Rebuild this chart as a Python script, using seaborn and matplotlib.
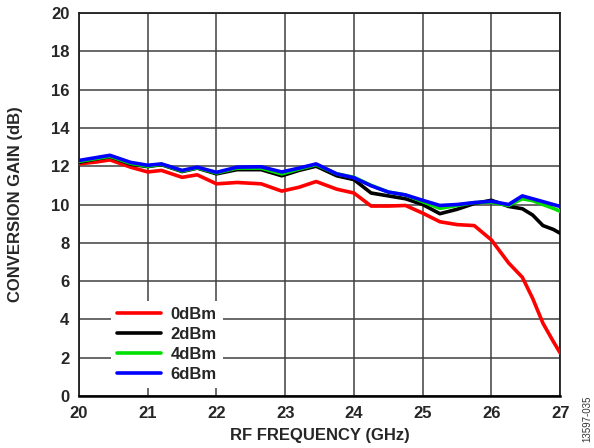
import pandas as pd
import matplotlib.pyplot as plt
import seaborn as sns

# Datos
freq = [20.0, 20.25, 20.45, 20.75, 21.0, 21.2, 21.5, 21.72, 22.0, 22.3, 22.65, 22.95,
        23.2, 23.45, 23.75, 24.0, 24.25, 24.5, 24.75, 25.0, 25.25, 25.5, 25.75, 26.0,
        26.25, 26.45, 26.6, 26.75, 26.9, 27.0]

gain_0dbm = [12.12, 12.22, 12.33, 11.95, 11.7, 11.78, 11.42, 11.55, 11.08, 11.15, 11.08, 10.7,
             10.9, 11.2, 10.8, 10.6, 9.92, 9.92, 9.95, 9.55, 9.1, 8.95, 8.9, 8.15,
             6.95, 6.2, 5.1, 3.8, 2.85, 2.25]
gain_2dbm = [12.2, 12.38, 12.5, 12.1, 11.98, 12.08, 11.72, 11.9, 11.6, 11.82, 11.82, 11.5,
             11.78, 12.0, 11.5, 11.3, 10.6, 10.45, 10.3, 10.0, 9.52, 9.75, 10.05, 10.22,
             9.9, 9.78, 9.45, 8.9, 8.7, 8.5]
gain_4dbm = [12.25, 12.4, 12.52, 12.15, 12.0, 12.1, 11.75, 11.92, 11.65, 11.9, 11.9, 11.6,
             11.85, 12.08, 11.6, 11.42, 11.0, 10.65, 10.5, 10.15, 9.8, 9.95, 10.1, 10.12,
             9.95, 10.3, 10.2, 10.0, 9.8, 9.65]
gain_6dbm = [12.3, 12.45, 12.57, 12.2, 12.05, 12.12, 11.78, 11.95, 11.68, 11.95, 11.97, 11.7,
             11.9, 12.12, 11.6, 11.4, 10.98, 10.65, 10.5, 10.22, 9.95, 10.0, 10.1, 10.17,
             10.0, 10.45, 10.3, 10.15, 10.0, 9.9]

series_names = ['0dBm', '2dBm', '4dBm', '6dBm']
colores = ['#ff0000', '#000000', '#00e000', '#0000ff']

filas = []
for nombre, valores in zip(series_names, [gain_0dbm, gain_2dbm, gain_4dbm, gain_6dbm]):
    for f, g in zip(freq, valores):
        filas.append({'freq': f, 'gain': g, 'nivel': nombre})
df = pd.DataFrame(filas)

sns.set_style('white')
plt.rcParams['font.family'] = ['Liberation Sans', 'DejaVu Sans']

fig, ax = plt.subplots(figsize=(5.94, 4.48), dpi=100)
plt.subplots_adjust(left=0.133, right=0.943, bottom=0.116, top=0.971)

sns.lineplot(data=df, x='freq', y='gain', hue='nivel', palette=colores,
             hue_order=series_names, linewidth=2.6, ax=ax, zorder=3, sort=False)

ax.set_xlim(20, 27)
ax.set_ylim(0, 20)
ax.set_xticks(range(20, 28))
ax.set_yticks(range(0, 21, 2))
ax.grid(True, color='#404040', linewidth=1.1, zorder=0)
ax.tick_params(axis='both', length=0, pad=7, labelsize=12)
for lab in ax.get_xticklabels() + ax.get_yticklabels():
    lab.set_fontweight('bold')
for sp in ax.spines.values():
    sp.set_color('#202020')
    sp.set_linewidth(1.3)
ax.spines['bottom'].set_color('black')
ax.spines['bottom'].set_linewidth(1.8)

ax.set_xlabel('RF FREQUENCY (GHz)', fontsize=12, fontweight='bold', labelpad=5)
ax.set_ylabel('CONVERSION GAIN (dB)', fontsize=12, fontweight='bold', labelpad=20)

leg = ax.legend(loc='upper left', bbox_to_anchor=(0.05, 0.27), frameon=True,
                fancybox=False, edgecolor='none', facecolor='white', framealpha=1,
                prop={'weight': 'bold', 'size': 12}, handlelength=2.6,
                handletextpad=0.6, labelspacing=0.3, borderpad=0.35)
for linea in leg.get_lines():
    linea.set_linewidth(2.6)
leg.set_zorder(5)

fig.text(0.988, 0.065, '13597-035', rotation=90, fontsize=7, color='#333333',
         ha='center', va='center')

plt.savefig('out.png', dpi=100)
plt.close()
